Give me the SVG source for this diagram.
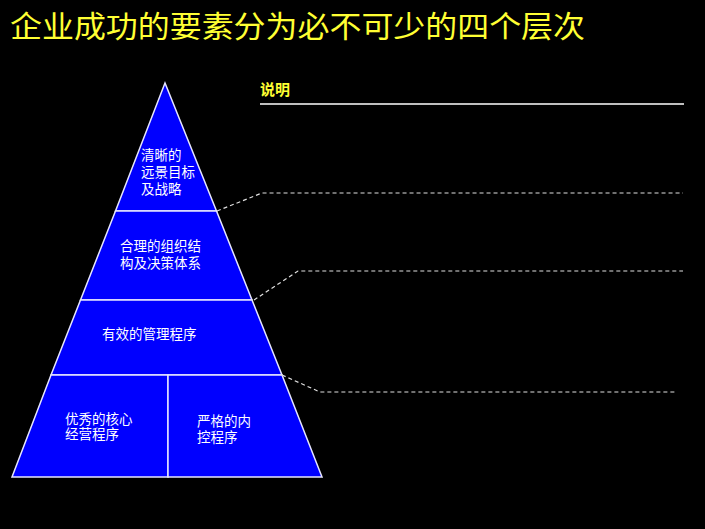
<svg xmlns="http://www.w3.org/2000/svg" width="705" height="529" viewBox="0 0 705 529">
<style>
.seg{fill:#0000ff;stroke:#e6e6ff;stroke-width:1.5}
.lbl{fill:#ffffff;font-family:"Noto Sans CJK SC","Noto Sans",sans-serif;font-size:13.5px}
.dash{fill:none;stroke:#e0e0e0;stroke-width:1.2;stroke-dasharray:4 3}
</style>
<rect x="0" y="0" width="705" height="529" fill="#000"/>
<text x="10" y="37" fill="#ffff33" font-family="'Noto Sans CJK SC',sans-serif" font-size="29.5px" textLength="575" lengthAdjust="spacingAndGlyphs">企业成功的要素分为必不可少的四个层次</text>
<g id="header">
<text x="260" y="95" fill="#ffff33" font-family="'Noto Sans CJK SC',sans-serif" font-size="15px" font-weight="bold">说明</text>
<line x1="260" y1="104" x2="684" y2="104" stroke="#ffffff" stroke-width="1.5"/>
</g>
<g id="level1">
<polygon class="seg" points="165,83 216.5,211 115.5,211"/>
<text class="lbl" x="141" y="160">清晰的</text>
<text class="lbl" x="141" y="177">远景目标</text>
<text class="lbl" x="141" y="194">及战略</text>
</g>
<g id="level2">
<polygon class="seg" points="115.5,211 216.5,211 252,300 80.5,300"/>
<text class="lbl" x="120" y="251">合理的组织结</text>
<text class="lbl" x="120" y="268">构及决策体系</text>
</g>
<g id="level3">
<polygon class="seg" points="80.5,300 252,300 282,375 51,375"/>
<text class="lbl" x="102" y="339">有效的管理程序</text>
</g>
<g id="level4a">
<polygon class="seg" points="51,375 168,375 168,477 12,477"/>
<text class="lbl" x="65" y="424">优秀的核心</text>
<text class="lbl" x="65" y="439">经营程序</text>
</g>
<g id="level4b">
<polygon class="seg" points="168,375 282,375 322,477 168,477"/>
<text class="lbl" x="197" y="426">严格的内</text>
<text class="lbl" x="197" y="442">控程序</text>
</g>
<g id="connectors">
<polyline class="dash" points="217,211 262,193 683,193"/>
<polyline class="dash" points="254,300 298,271 683,271"/>
<polyline class="dash" points="282,375 320,392 677,392"/>
</g>
</svg>
